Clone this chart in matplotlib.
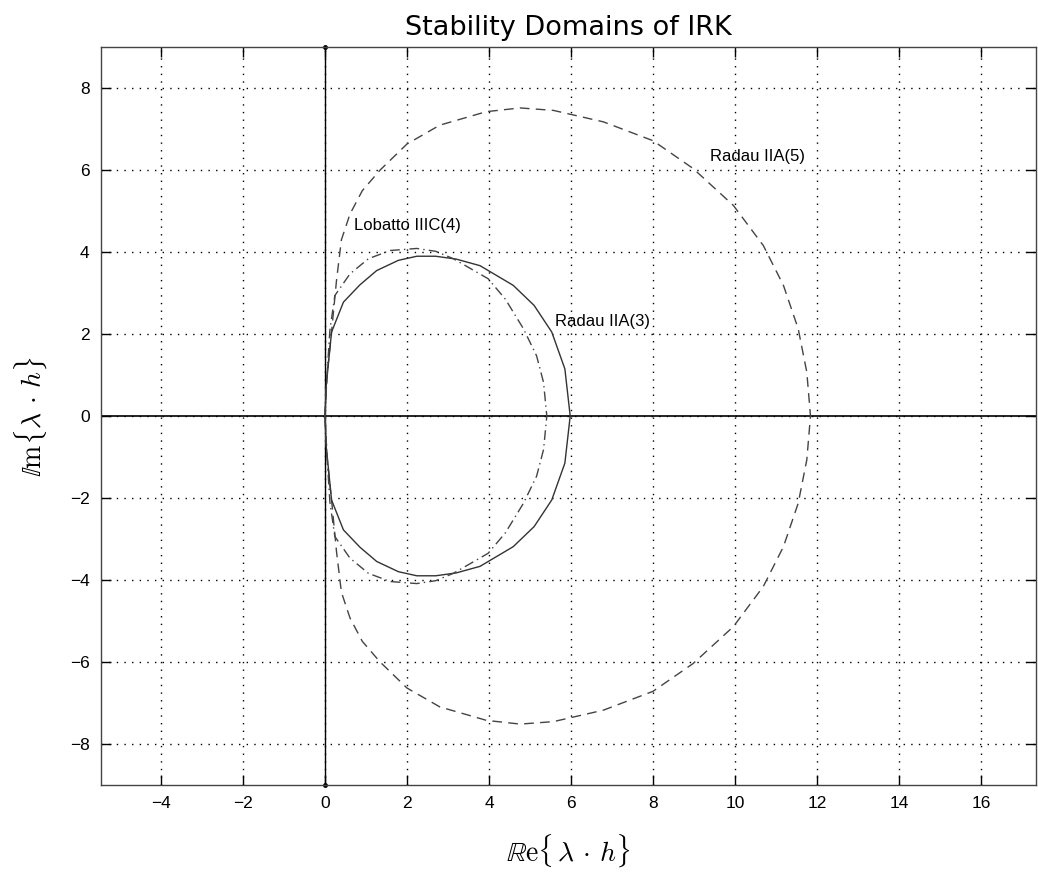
import matplotlib
matplotlib.use("Agg")
import numpy as np
import matplotlib.pyplot as plt

plt.rcParams['font.family'] = ['Liberation Sans', 'DejaVu Sans']
plt.rcParams['mathtext.fontset'] = 'cm'

# Upper halves of the stability boundaries (Re, Im)
radau3_re = [0.0, 0.03, 0.16, 0.45, 0.85, 1.26, 1.79, 2.24, 2.70, 3.20, 3.78, 4.59, 5.10, 5.53, 5.85, 5.98]
radau3_im = [0.0, 0.74, 2.05, 2.78, 3.20, 3.55, 3.80, 3.90, 3.90, 3.83, 3.67, 3.19, 2.70, 2.05, 1.15, 0.0]

lobatto4_re = [0.0, 0.05, 0.12, 0.24, 0.61, 1.06, 1.59, 2.24, 2.70, 3.13, 3.60, 3.98, 4.40, 4.84, 5.16, 5.33, 5.41]
lobatto4_im = [0.0, 1.00, 2.10, 2.94, 3.47, 3.84, 4.04, 4.09, 4.02, 3.84, 3.57, 3.35, 2.85, 2.13, 1.47, 0.82, 0.0]

radau5_re = [0.0, 0.05, 0.16, 0.28, 0.40, 0.61, 0.91, 1.34, 2.00, 2.80, 3.94, 4.76, 5.57, 6.79, 8.00,
             8.98, 9.96, 10.69, 11.18, 11.54, 11.75, 11.84]
radau5_im = [0.0, 1.00, 2.05, 3.30, 4.30, 4.93, 5.50, 6.00, 6.64, 7.10, 7.43, 7.52, 7.46, 7.18, 6.72,
             6.04, 5.14, 4.16, 3.19, 2.13, 1.07, 0.0]

x_ticks = [-4, -2, 0, 2, 4, 6, 8, 10, 12, 14, 16]
y_ticks = [-8, -6, -4, -2, 0, 2, 4, 6, 8]
x_lim = (-5.47, 17.33)
y_lim = (-9, 9)


def closed_curve(re, im):
    """Upper half plus its mirror image below the real axis."""
    re = np.asarray(re)
    im = np.asarray(im)
    return np.concatenate([re, re[::-1]]), np.concatenate([im, -im[::-1]])


fig = plt.figure(figsize=(10.38, 8.76), dpi=100)
ax = fig.add_axes([0.097, 0.1042, 0.9007, 0.8418])

# grid in MATLAB dotted style
ax.set_xticks(x_ticks)
ax.set_yticks(y_ticks)
ax.grid(True, color='black', linestyle=(0, (1, 4.5)), linewidth=1.0)
ax.set_axisbelow(True)

# coordinate axes through the origin
ax.plot(x_lim, [0, 0], color='black', linewidth=1.2, zorder=2)
ax.plot([0, 0], y_lim, color='black', linewidth=1.0, marker='.', markersize=5,
        zorder=2, clip_on=False)

x, y = closed_curve(radau5_re, radau5_im)
ax.plot(x, y, color='#444444', linewidth=1.0, linestyle=(0, (7, 4.5)), zorder=3)

x, y = closed_curve(radau3_re, radau3_im)
ax.plot(x, y, color='#333333', linewidth=1.0, linestyle='-', zorder=3)

x, y = closed_curve(lobatto4_re, lobatto4_im)
ax.plot(x, y, color='#444444', linewidth=1.0, linestyle=(0, (7, 3, 1, 3)), zorder=3)

ax.text(9.39, 6.33, 'Radau IIA(5)', fontsize=12, ha='left', va='center')
ax.text(0.71, 4.65, 'Lobatto IIIC(4)', fontsize=12, ha='left', va='center')
ax.text(5.61, 2.30, 'Radau IIA(3)', fontsize=12, ha='left', va='center')

ax.set_xlim(x_lim)
ax.set_ylim(y_lim)
ax.tick_params(direction='in', length=7, width=1, top=True, right=True,
               labelsize=12.5, pad=8)
for side in ax.spines.values():
    side.set_color('#444444')
    side.set_linewidth(1.0)

ax.set_title('Stability Domains of IRK', fontsize=19.5, family='DejaVu Sans', pad=9)
ax.set_xlabel(r'$\mathbb{R}\mathrm{e}\{\,\lambda\,\cdot\,h\}$', fontsize=20, labelpad=16)
ax.set_ylabel(r'$\mathbb{I}\mathrm{m}\{\lambda\,\cdot\,h\}$', fontsize=20, labelpad=14)

fig.savefig('out.png', dpi=100)
